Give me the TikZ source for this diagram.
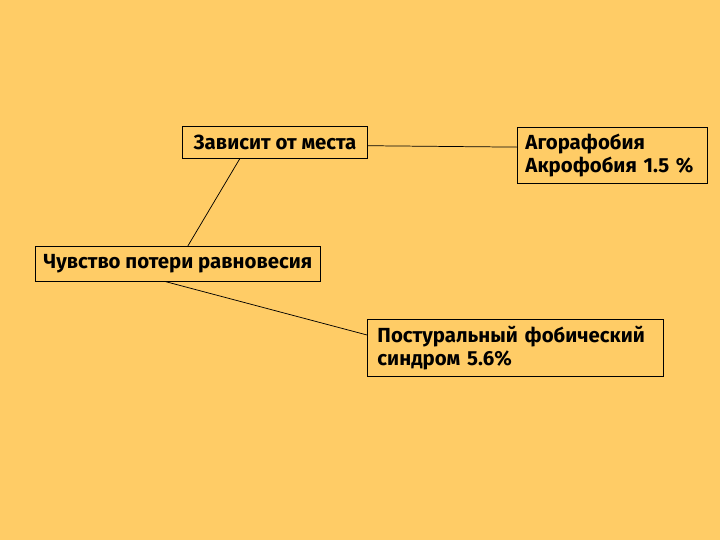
\documentclass[tikz,border=0pt]{standalone}
\usepackage{fontspec}
\setmainfont{Fira Sans}
\usetikzlibrary{positioning}
\definecolor{bgyellow}{HTML}{FFCC66}

\begin{document}
\begin{tikzpicture}[x=0.75pt, y=-0.75pt,
      box/.style={draw=black, line width=0.7pt, anchor=north west, inner xsep=6pt, inner ysep=2pt,
                  align=left, font=\fontsize{15.3}{17.5}\selectfont\bfseries},
      link/.style={draw=black, line width=0.55pt}
    ]
    \fill[bgyellow] (0,0) rectangle (720,540);
    % boxes
    \node[box, minimum width=138.75pt, minimum height=24pt, inner xsep=3pt] (place) at (182,126) {Зависит от места};
    \node[box, minimum width=142.5pt, minimum height=42pt, text width=130.5pt] (agora) at (517,127) {Агорафобия\\Акрофобия 1.5 \%};
    \node[box, minimum width=213.75pt, minimum height=26pt, inner xsep=3pt] (balance) at (35,246) {Чувство потери равновесия};
    \node[box, minimum width=222pt, minimum height=42.75pt, text width=207pt, inner xsep=7.5pt] (postural) at (367,319) {Постуральный фобический\\синдром 5.6\%};
    % links
    \draw[link] (place.-2) -- (agora.175);
    \draw[link] (place.205) -- (balance.61);
    \draw[link] (balance.235) -- (postural.175);
  \end{tikzpicture}
\end{document}
